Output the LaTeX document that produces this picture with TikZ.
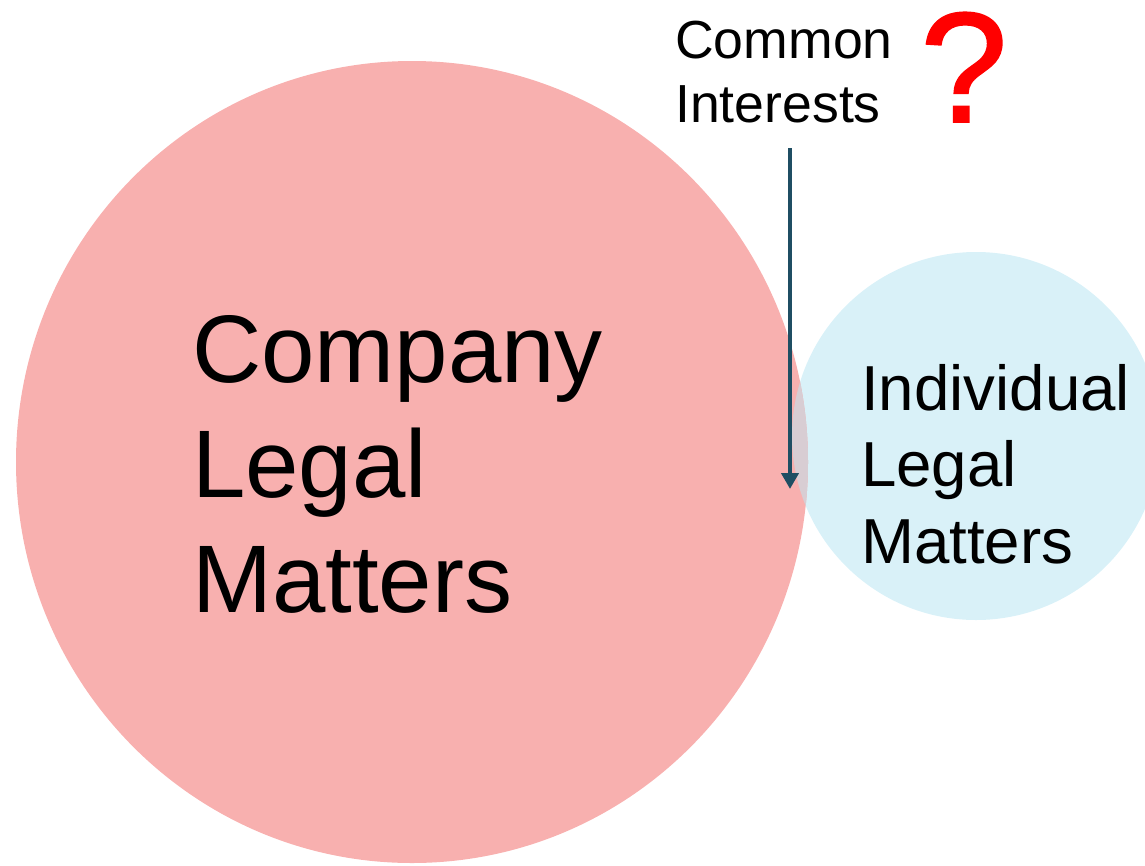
\documentclass[tikz,border=0pt]{standalone}
\usepackage{fontspec}
\setmainfont{Liberation Sans}
\newfontfamily\querymarkfont{Liberation Sans}[FakeBold=1.2]
\usetikzlibrary{arrows.meta}
\definecolor{companypink}{RGB}{248,176,175}
\definecolor{individualblue}{RGB}{217,241,248}
\definecolor{overlapgrey}{RGB}{216,205,211}
\definecolor{pointerteal}{RGB}{31,78,99}
\begin{document}
\begin{tikzpicture}[x=1pt,y=-1pt,
  textline/.style={anchor=base west,inner sep=0pt,text=black},
  bigtext/.style={textline,font=\fontsize{96}{115}\selectfont},
  midtext/.style={textline,font=\fontsize{63.6}{76}\selectfont},
  smalltext/.style={textline,font=\fontsize{53.6}{62}\selectfont},
  pointer/.style={draw=pointerteal,line width=4.5pt,-{Triangle[width=17pt,length=16pt]}}]
\useasboundingbox (0,0) rectangle (1145,865);
\clip (0,0) rectangle (1145,865);
% the two sets of matters
\fill[individualblue] (976,436) circle[radius=184];
\fill[companypink] (412,462) ellipse[x radius=396,y radius=401];
\begin{scope}
  \clip (412,462) ellipse[x radius=396,y radius=401];
  \fill[overlapgrey] (976,436) circle[radius=184];
\end{scope}
% labels of the company circle
\node[bigtext] (c1) at (192,382) {Company};
\node[bigtext] (c2) at (192,497) {Legal};
\node[bigtext] (c3) at (192,612) {Matters};
% labels of the individual circle
\node[midtext] (i1) at (861,410) {Individual};
\node[midtext] (i2) at (861,486) {Legal};
\node[midtext] (i3) at (861,563) {Matters};
% caption for the shared part
\node[smalltext] (m1) at (675,58) {Common};
\node[smalltext] (m2) at (675,122) {Interests};
\node[textline,text=red,font=\querymarkfont\fontsize{157}{160}\selectfont] (q) at (920,122) {?};
% pointer into the overlap
\coordinate (ptop) at (790,148);
\coordinate (ptip) at (790,489);
\draw[pointer] (ptop) -- (ptip);
\end{tikzpicture}
\end{document}
